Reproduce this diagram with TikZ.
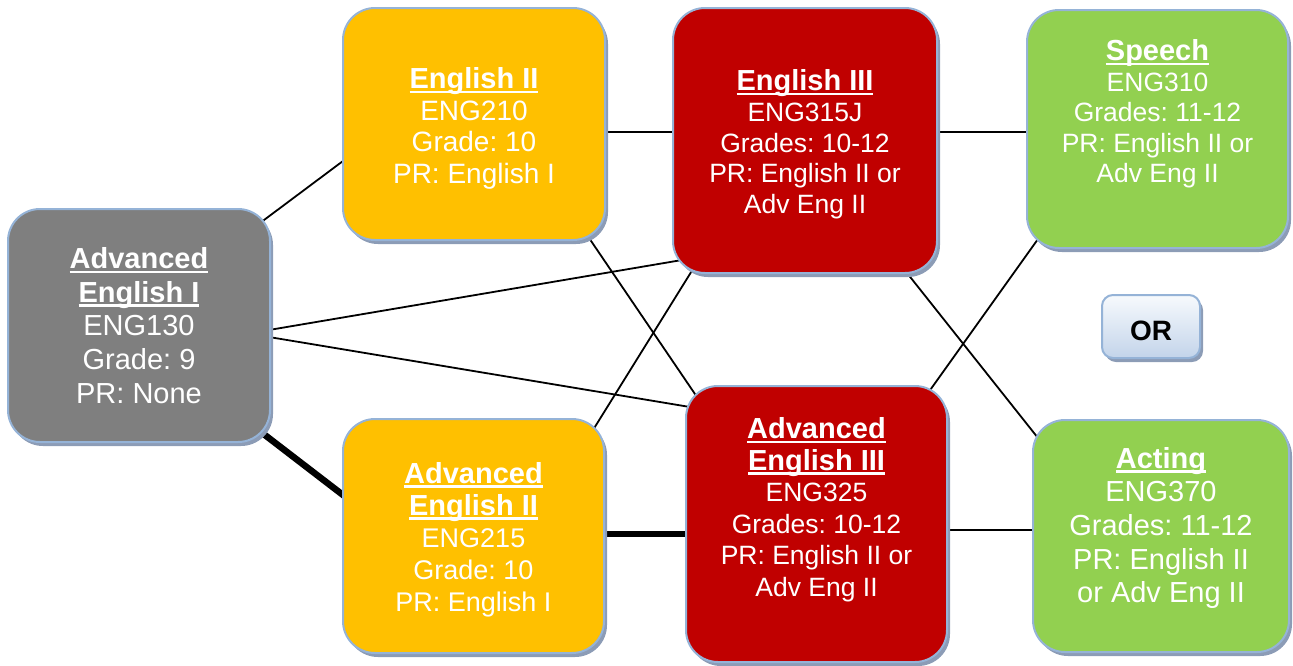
\documentclass[tikz,border=0pt]{standalone}
\usepackage{fontspec}
\setmainfont{Liberation Sans}
\usetikzlibrary{calc,shadows}
\pgfdeclarelayer{bg}
\pgfsetlayers{bg,main}
\frenchspacing
\definecolor{grayc}{HTML}{7F7F7F}
\definecolor{amber}{HTML}{FFC000}
\definecolor{redc}{HTML}{C00000}
\definecolor{greenc}{HTML}{92D050}
\definecolor{bord}{HTML}{95B3D7}
\definecolor{shad}{RGB}{140,156,182}
\definecolor{ortop}{HTML}{F7FAFD}
\definecolor{orbot}{HTML}{C3D4EA}
\newcommand\hd[1]{{\fontsize{29}{30}\selectfont\bfseries\setbox0\hbox{#1}\rlap{\rule[-4.5pt]{\wd0}{2.4pt}}\box0}}
\tikzset{
  course/.style={draw=bord, line width=2pt, rounded corners=32pt, inner sep=0pt,
    drop shadow={shadow xshift=3pt, shadow yshift=-4pt, fill=shad, opacity=1}},
  ctext/.style={text=white, align=center, inner sep=0pt},
  link/.style={draw=black, line width=1.8pt, shorten <=-5pt, shorten >=-5pt},
  heavy/.style={draw=black, line width=6.5pt, shorten <=-5pt, shorten >=-5pt},
  orbox/.style={draw=bord, line width=2pt, rounded corners=11pt, inner sep=0pt,
    top color=ortop, bottom color=orbot,
    drop shadow={shadow xshift=3pt, shadow yshift=-4pt, fill=shad, opacity=1},
    font=\fontsize{28}{30}\selectfont\bfseries, text height=28pt, text depth=0pt}
}
\begin{document}
\begin{tikzpicture}[x=1pt,y=-1pt]
\useasboundingbox (0,0) rectangle (1293,665);
% boxes
\node[course, fill=grayc, minimum width=262pt, minimum height=233pt] (ae1) at (139,325.5) {};
\node[course, fill=amber, minimum width=262pt, minimum height=232pt] (e2) at (474,124) {};
\node[course, fill=redc, minimum width=264pt, minimum height=265pt] (e3) at (805,140.5) {};
\node[course, fill=greenc, minimum width=261pt, minimum height=238pt] (sp) at (1157.5,129) {};
\node[course, fill=amber, minimum width=261pt, minimum height=234pt] (ae2) at (473.5,536) {};
\node[course, fill=redc, minimum width=261pt, minimum height=276pt] (ae3) at (816.5,524) {};
\node[course, fill=greenc, minimum width=256pt, minimum height=232pt] (act) at (1161,536) {};
\node[orbox, minimum width=98pt, minimum height=63pt] (or) at (1151,326.5) {OR};
% texts
\node[ctext, font=\fontsize{29}{33.7}\selectfont] (ae1t) at ($(ae1.center)+(0,0)$)
  {\hd{Advanced}\\\hd{English I}\\ENG130\\Grade: 9\\PR: None};
\node[ctext, font=\fontsize{28}{31.5}\selectfont] (e2t) at ($(e2.center)+(0,4.5)$)
  {\hd{English II}\\ENG210\\Grade: 10\\PR: English I};
\node[ctext, font=\fontsize{26.5}{30.7}\selectfont] (e3t) at ($(e3.center)+(0,4)$)
  {\hd{English III}\\ENG315J\\Grades: 10-12\\PR: English II or\\Adv Eng II};
\node[ctext, font=\fontsize{26.5}{30.5}\selectfont] (spt) at ($(sp.center)+(0,-15)$)
  {\hd{Speech}\\ENG310\\Grades: 11-12\\PR: English II or\\Adv Eng II};
\node[ctext, font=\fontsize{27}{32}\selectfont] (ae2t) at ($(ae2.center)+(0,3.5)$)
  {\hd{Advanced}\\\hd{English II}\\ENG215\\Grade: 10\\PR: English I};
\node[ctext, font=\fontsize{26.5}{31.5}\selectfont] (ae3t) at ($(ae3.center)+(0,-14.5)$)
  {\hd{Advanced}\\\hd{English III}\\ENG325\\Grades: 10-12\\PR: English II or\\Adv Eng II};
\node[ctext, font=\fontsize{29}{33.7}\selectfont] (actt) at ($(act.center)+(0,-8)$)
  {\hd{Acting}\\ENG370\\Grades: 11-12\\PR: English II\\or Adv Eng II};
% connectors
\begin{pgfonlayer}{bg}
\draw[link] ($(ae1.center)+(121,-102.5)$) -- ($(e2.center)+(-131,37)$);
\draw[link] ($(ae1.center)+(130,4.5)$) -- ($(e3.center)+(-123,119.5)$);
\draw[link] ($(ae1.center)+(130,11.5)$) -- ($(ae3.center)+(-126.5,-117)$);
\draw[heavy] ($(ae1.center)+(122,106.5)$) -- ($(ae2.center)+(-130.5,-41)$);
\draw[link] ($(e2.center)+(131,8)$) -- ($(e3.center)+(-132,-8.5)$);
\draw[link] ($(e2.center)+(113,111)$) -- ($(ae3.center)+(-119.5,-127)$);
\draw[link] ($(ae2.center)+(119.5,-106)$) -- ($(e3.center)+(-112,128.5)$);
\draw[heavy] ($(ae2.center)+(130.5,-2)$) -- ($(ae3.center)+(-130.5,10)$);
\draw[link] ($(e3.center)+(132,-8.5)$) -- ($(sp.center)+(-130.5,3)$);
\draw[link] ($(e3.center)+(102,132.5)$) -- ($(act.center)+(-123,-98)$);
\draw[link] ($(ae3.center)+(111.5,-131)$) -- ($(sp.center)+(-119.5,110)$);
\draw[link] ($(ae3.center)+(130.5,6)$) -- ($(act.center)+(-128,-6)$);
\end{pgfonlayer}
\end{tikzpicture}
\end{document}
